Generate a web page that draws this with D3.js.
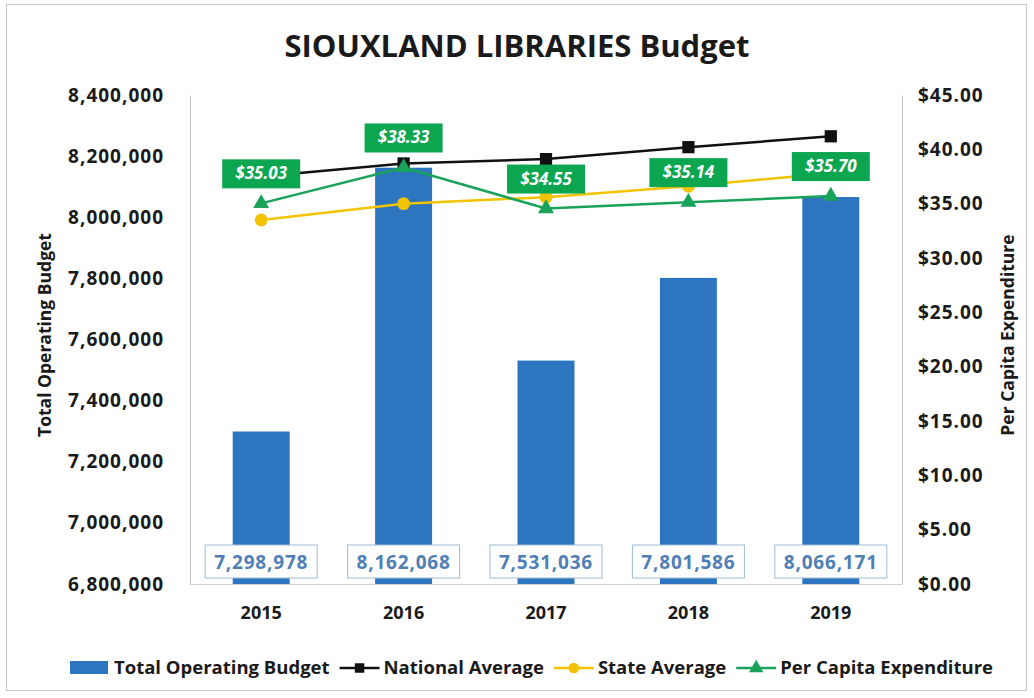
<!DOCTYPE html>
<html>
<head>
<meta charset="utf-8">
<script src="https://cdn.jsdelivr.net/npm/d3@7"></script>
<style>
  body { margin: 0; background: #fff; }
  text { font-family: "Open Sans", "Noto Sans", sans-serif; font-weight: bold; fill: #1a1a1a; }
</style>
</head>
<body>
<div id="plot"></div>
<script>
var years = ["2015", "2016", "2017", "2018", "2019"];
var budget = [7298978, 8162068, 7531036, 7801586, 8066171];
var nationalAvg = [37.5, 38.7, 39.1, 40.2, 41.2];
var stateAvg = [33.5, 35.0, 35.6, 36.6, 37.8];
var perCapita = [35.03, 38.33, 34.55, 35.14, 35.70];
var leftTicks = [6800000, 7000000, 7200000, 7400000, 7600000, 7800000, 8000000, 8200000, 8400000];
var rightTicks = [0, 5, 10, 15, 20, 25, 30, 35, 40, 45];

var W = 1034, H = 698;
var margin = { top: 95, right: 132, bottom: 114, left: 190 };
var width = W - margin.left - margin.right;
var height = H - margin.top - margin.bottom;

var svg = d3.select("div#plot")
  .append("svg")
    .attr("width", W)
    .attr("height", H);

// outer frame
svg.append("rect")
  .attr("x", 6.5).attr("y", 4.5)
  .attr("width", 1020).attr("height", 686)
  .attr("fill", "#fff")
  .attr("stroke", "#c8c8c8");

svg.append("text")
  .attr("x", 517).attr("y", 57)
  .attr("text-anchor", "middle")
  .style("font-size", "31px")
  .text("SIOUXLAND LIBRARIES Budget");

var g = svg.append("g")
  .attr("transform", "translate(" + margin.left + "," + margin.top + ")");

var x = d3.scaleBand()
  .domain(years)
  .range([0, width])
  .paddingInner(0.6)
  .paddingOuter(0.3);

var y = d3.scaleLinear()
  .domain([6800000, 8400000])
  .range([height, 0]);

var y2 = d3.scaleLinear()
  .domain([0, 45])
  .range([height, 0]);

var yAxis = d3.axisLeft(y)
  .tickValues(leftTicks)
  .tickSize(0)
  .tickPadding(26)
  .tickFormat(d3.format(","));

var y2Axis = d3.axisRight(y2)
  .tickValues(rightTicks)
  .tickSize(0)
  .tickPadding(16)
  .tickFormat(d3.format("$.2f"));

var xAxis = d3.axisBottom(x)
  .tickSize(0)
  .tickPadding(22);

var ya = g.append("g").call(yAxis);
ya.select(".domain").attr("stroke", "#bdbdbd");
ya.selectAll("text").style("font-size", "19px").style("letter-spacing", "1px").attr("fill", "#1a1a1a");

var y2a = g.append("g")
  .attr("transform", "translate(" + width + ",0)")
  .call(y2Axis);
y2a.select(".domain").attr("stroke", "#bdbdbd");
y2a.selectAll("text").style("font-size", "19px").style("letter-spacing", "1px").attr("fill", "#1a1a1a");

var xa = g.append("g")
  .attr("transform", "translate(0," + height + ")")
  .call(xAxis);
xa.select(".domain").attr("stroke", "#d0d0d0");
xa.selectAll("text").style("font-size", "18px").attr("fill", "#1a1a1a");

// axis titles
svg.append("text")
  .attr("transform", "translate(51,335) rotate(-90)")
  .attr("text-anchor", "middle")
  .style("font-size", "17.5px")
  .text("Total Operating Budget");

svg.append("text")
  .attr("transform", "translate(1014,335) rotate(-90)")
  .attr("text-anchor", "middle")
  .style("font-size", "17.5px")
  .text("Per Capita Expenditure");

// bars
g.selectAll("rect.bar")
  .data(budget)
  .enter().append("rect")
  .attr("class", "bar")
  .attr("x", function(d, i) { return x(years[i]); })
  .attr("width", x.bandwidth())
  .attr("y", function(d) { return y(d); })
  .attr("height", function(d) { return height - y(d); })
  .attr("fill", "#2e75c0");

// bar value labels
var bl = g.selectAll("g.blabel")
  .data(budget)
  .enter().append("g")
  .attr("class", "blabel")
  .attr("transform", function(d, i) {
    return "translate(" + (x(years[i]) + x.bandwidth() / 2) + "," + (height - 22) + ")";
  });

bl.append("rect")
  .attr("x", -56).attr("y", -17)
  .attr("width", 112).attr("height", 33)
  .attr("fill", "#fff")
  .attr("stroke", "#9fbcd8");

bl.append("text")
  .attr("text-anchor", "middle")
  .attr("dy", "0.35em")
  .style("font-size", "19px")
  .style("letter-spacing", "0.8px")
  .style("fill", "#4f7fb4")
  .text(function(d) { return d3.format(",")(d); });

function cx(i) { return x(years[i]) + x.bandwidth() / 2; }

var line = d3.line()
  .x(function(d, i) { return cx(i); })
  .y(function(d) { return y2(d); });

var series = [
  { name: "National Average", values: nationalAvg, color: "#111", symbol: d3.symbolSquare, size: 150 },
  { name: "State Average", values: stateAvg, color: "#f2c300", symbol: d3.symbolCircle, size: 130 },
  { name: "Per Capita Expenditure", values: perCapita, color: "#19a25a", symbol: d3.symbolTriangle, size: 110 }
];

series.forEach(function(s) {
  g.append("path")
    .datum(s.values)
    .attr("fill", "none")
    .attr("stroke", s.color)
    .attr("stroke-width", 2.5)
    .attr("d", line);

  g.selectAll(null)
    .data(s.values)
    .enter().append("path")
    .attr("transform", function(d, i) { return "translate(" + cx(i) + "," + y2(d) + ")"; })
    .attr("d", d3.symbol().type(s.symbol).size(s.size))
    .attr("fill", s.color);
});

// per capita labels
var pl = g.selectAll("g.plabel")
  .data(perCapita)
  .enter().append("g")
  .attr("class", "plabel")
  .attr("transform", function(d, i) { return "translate(" + cx(i) + "," + (y2(d) - 30) + ")"; });

pl.append("rect")
  .attr("x", -39).attr("y", -14)
  .attr("width", 78).attr("height", 29)
  .attr("fill", "#0ca550");

pl.append("text")
  .attr("text-anchor", "middle")
  .attr("dy", "0.35em")
  .style("font-size", "17px")
  .style("font-style", "italic")
  .style("fill", "#fff")
  .text(function(d) { return d3.format("$.2f")(d); });

// legend
var legendItems = [
  { name: "Total Operating Budget", color: "#2e75c0", type: "bar" },
  { name: "National Average", color: "#111", symbol: d3.symbolSquare },
  { name: "State Average", color: "#f2c300", symbol: d3.symbolCircle },
  { name: "Per Capita Expenditure", color: "#19a25a", symbol: d3.symbolTriangle }
];

var legend = svg.append("g").attr("transform", "translate(0,668)");
var lx = 70;
legendItems.forEach(function(it) {
  var item = legend.append("g").attr("transform", "translate(" + lx + ",0)");
  if (it.type == "bar") {
    item.append("rect")
      .attr("x", 0).attr("y", -7)
      .attr("width", 38).attr("height", 13)
      .attr("fill", it.color);
  } else {
    item.append("line")
      .attr("x1", 0).attr("x2", 40)
      .attr("stroke", it.color).attr("stroke-width", 2.5);
    item.append("path")
      .attr("transform", "translate(20,0)")
      .attr("d", d3.symbol().type(it.symbol).size(90))
      .attr("fill", it.color);
  }
  var t = item.append("text")
    .attr("x", 44)
    .attr("dy", "0.35em")
    .style("font-size", "18.5px")
    .text(it.name);
  lx += 44 + t.node().getComputedTextLength() + 10;
});
</script>
</body>
</html>
